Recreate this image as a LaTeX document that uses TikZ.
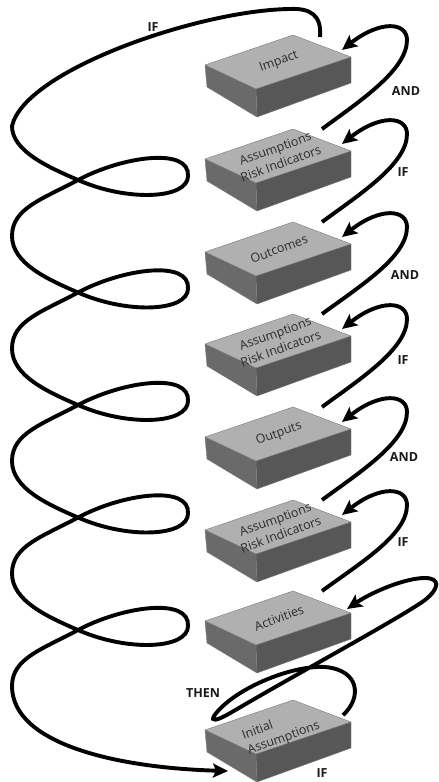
\documentclass[tikz,border=0pt]{standalone}
\usepackage{fontspec}
\setmainfont{Open Sans}
\usetikzlibrary{arrows.meta}
\definecolor{topc}{HTML}{B0B0B0}
\definecolor{leftc}{HTML}{6A6A6A}
\definecolor{frontc}{HTML}{575757}
\definecolor{edgec}{HTML}{7A7A7A}
\definecolor{txtc}{HTML}{2B2B2B}
\begin{document}
\begin{tikzpicture}[x=1pt,y=-1pt,
  rope/.style={line width=3.9pt, black},
  arrowed/.style={rope, -{Stealth[length=15pt,width=14pt,inset=3pt]}},
  boxtext/.style={font=\fontsize{12.5}{16}\selectfont, text=txtc, rotate=20, align=center, inner sep=0pt},
  lbl/.style={font=\fontsize{12.5}{14}\selectfont\bfseries, text=black!90, inner sep=0pt},
  pics/slabbox/.style={code={
    \fill[topc] (0,0) -- (88,-30) -- (146,-8) -- (51,24) -- cycle;
    \fill[leftc] (0,0) -- (51,24) -- (52,52) -- (2,22) -- cycle;
    \fill[frontc] (51,24) -- (146,-8) -- (146,18) -- (52,52) -- cycle;
    \draw[edgec, line width=0.4pt, line join=round] (0,0) -- (88,-30) -- (146,-8) -- (51,24) -- cycle
      (51,24) -- (52,52) (0,0) -- (2,22) -- (52,52) -- (146,18) -- (146,-8);
  }}]
\useasboundingbox (0,0) rectangle (439,782);

% boxes
\pic at (205,65)  {slabbox};
\pic at (205,159) {slabbox};
\pic at (205,252) {slabbox};
\pic at (205,344) {slabbox};
\pic at (205,437) {slabbox};
\pic at (205,530) {slabbox};
\pic at (205,621) {slabbox};
\pic at (205,730) {slabbox};

\node[boxtext] (n1) at (279,62)  {Impact};
\node[boxtext] (n2) at (278,156) {Assumptions\\Risk Indicators};
\node[boxtext] (n3) at (279,249) {Outcomes};
\node[boxtext] (n4) at (278,341) {Assumptions\\Risk Indicators};
\node[boxtext] (n5) at (279,434) {Outputs};
\node[boxtext] (n6) at (278,527) {Assumptions\\Risk Indicators};
\node[boxtext] (n7) at (279,618) {Activities};
\node[boxtext, align=left] (n8) at (281,731) {Initial\\Assumptions};

% right-hand arcs between neighbouring boxes
\foreach \ya/\yb [count=\i] in {65/159, 159/252, 252/344, 344/437, 437/530, 530/621}{
  \coordinate (s\i) at (322,{\yb-30});
  \coordinate (r\i) at (407,{\ya-25});
  \coordinate (t\i) at (342,{\ya-15});
  \draw[arrowed] (s\i) .. controls +(38,-28) and +(0,30) .. (r\i)
                 .. controls +(0,-18) and +(38,-30) .. (t\i);
}

% THEN loop from Initial Assumptions to Activities
\coordinate (ia) at (343,715);
\coordinate (ta) at (347,609);
\draw[arrowed] (ia) .. controls (362,698) and (360,670) .. (325,667)
   .. controls (290,665) and (232,690) .. (214,716)
   .. controls (211,721) and (215,722) .. (232,712)
   .. controls (300,672) and (400,618) .. (425,600)
   .. controls (440,588) and (440,578) .. (425,578)
   .. controls (405,578) and (372,592) .. (ta);

% big spiral from Impact down to Initial Assumptions
\coordinate (sp0) at (320,37);
\coordinate (sp1) at (228,771);
\draw[arrowed] (sp0) .. controls (322,15) and (310,8) .. (290,9)
   .. controls (200,10) and (25,70) .. (12,126)
   \foreach \c in {180,292.5,405,517.5,630}{
     .. controls (12,{\c-29}) and (48,{\c-13}) .. (78,\c)
     .. controls (128,{\c+22}) and (188,{\c+19}) .. (188,{\c-4})
     .. controls (190,{\c-33}) and (123,{\c-24}) .. (78,\c)
     .. controls (43,{\c+19}) and (12,{\c+28}) .. (12,{\c+56})
   }
   .. controls (12,745) and (120,768) .. (sp1);

% labels
\node[lbl] (l1) at (153,27) {IF};
\node[lbl] (l2) at (406,91) {AND};
\node[lbl] (l3) at (403,172) {IF};
\node[lbl] (l4) at (405,275) {AND};
\node[lbl] (l5) at (403,360) {IF};
\node[lbl] (l6) at (404,457) {AND};
\node[lbl] (l7) at (403,542) {IF};
\node[lbl] (l8) at (203,693) {THEN};
\node[lbl] (l9) at (322,773) {IF};
\end{tikzpicture}
\end{document}
